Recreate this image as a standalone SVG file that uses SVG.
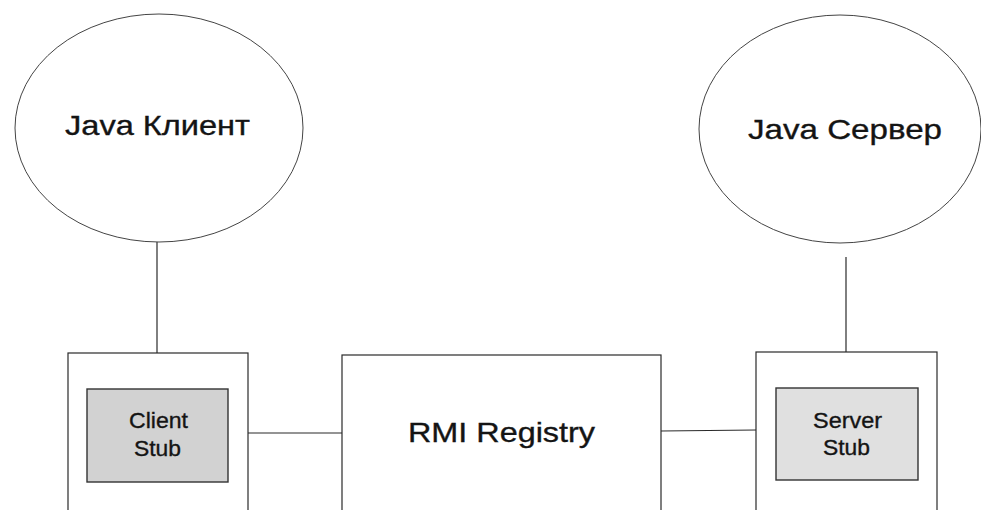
<svg xmlns="http://www.w3.org/2000/svg" width="981" height="510" viewBox="0 0 981 510">
<style>
.ln{stroke:#2a2a2a;stroke-width:1.2;fill:none}
.ell{stroke:#444;stroke-width:1;fill:none}
.box{stroke:#2a2a2a;stroke-width:1.2;fill:#ffffff}
.stub{stroke:#333;stroke-width:1.4}
text{font-family:"Liberation Sans",Arial,sans-serif;fill:#141414;text-anchor:middle;stroke:#141414;stroke-width:0.35}
.big{font-size:28px}
.sm{font-size:22px}
</style>
<rect width="981" height="510" fill="#ffffff"/>
<g id="connectors">
<line class="ln" x1="157" y1="242" x2="157" y2="353"/>
<line class="ln" x1="846" y1="257" x2="846" y2="352"/>
<line class="ln" x1="248" y1="433" x2="342" y2="433"/>
<line class="ln" x1="661" y1="431" x2="756" y2="430"/>
</g>
<g id="java-client">
<ellipse class="ell" cx="159" cy="128" rx="144" ry="114"/>
<text class="big" x="157.5" y="135" textLength="185" lengthAdjust="spacingAndGlyphs">Java Клиент</text>
</g>
<g id="java-server">
<ellipse class="ell" cx="840" cy="129" rx="141" ry="114"/>
<text class="big" x="845" y="139" textLength="194" lengthAdjust="spacingAndGlyphs">Java Сервер</text>
</g>
<g id="client-box">
<rect class="box" x="68" y="353" width="180" height="170"/>
<g id="client-stub">
<rect class="stub" x="87" y="389" width="141" height="93" fill="#d2d2d2"/>
<text class="sm" x="158.5" y="428" textLength="59" lengthAdjust="spacingAndGlyphs">Client</text>
<text class="sm" x="157.5" y="456" textLength="47" lengthAdjust="spacingAndGlyphs">Stub</text>
</g>
</g>
<g id="rmi-registry">
<rect class="box" x="342" y="355" width="319" height="170"/>
<text class="big" x="501.5" y="442" textLength="187" lengthAdjust="spacingAndGlyphs">RMI Registry</text>
</g>
<g id="server-box">
<rect class="box" x="756" y="352" width="181" height="170"/>
<g id="server-stub">
<rect class="stub" x="776" y="388" width="142" height="92" fill="#e0e0e0"/>
<text class="sm" x="847.5" y="428" textLength="69" lengthAdjust="spacingAndGlyphs">Server</text>
<text class="sm" x="846.5" y="455" textLength="47" lengthAdjust="spacingAndGlyphs">Stub</text>
</g>
</g>
</svg>
